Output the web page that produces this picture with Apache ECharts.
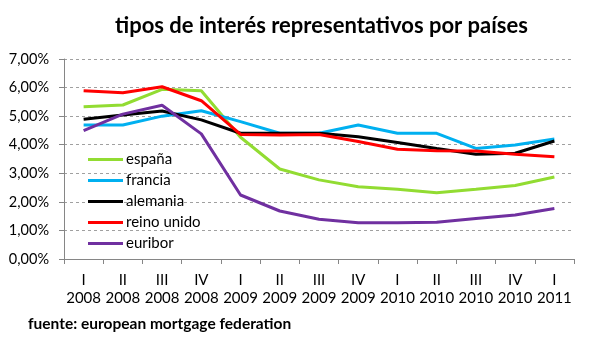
<!DOCTYPE html>
<html>
<head>
<meta charset="utf-8">
<script src="https://cdn.jsdelivr.net/npm/echarts@6/dist/echarts.min.js"></script>
<style>
  html, body { margin: 0; padding: 0; background: #fff; }
  #chart { width: 589px; height: 352px; }
</style>
</head>
<body>
<div id="chart"></div>
<script>
const quarters = ['I', 'II', 'III', 'IV', 'I', 'II', 'III', 'IV', 'I', 'II', 'III', 'IV', 'I']
const years = ['2008', '2008', '2008', '2008', '2009', '2009', '2009', '2009', '2010', '2010', '2010', '2010', '2011']
const espana = [5.33, 5.39, 5.94, 5.89, 4.26, 3.15, 2.77, 2.53, 2.44, 2.32, 2.44, 2.57, 2.87]
const francia = [4.69, 4.69, 5.0, 5.19, 4.81, 4.4, 4.4, 4.69, 4.4, 4.4, 3.87, 3.99, 4.2]
const alemania = [4.89, 5.04, 5.18, 4.87, 4.4, 4.4, 4.4, 4.28, 4.08, 3.87, 3.67, 3.7, 4.13]
const reinoUnido = [5.89, 5.82, 6.03, 5.54, 4.36, 4.34, 4.36, 4.11, 3.84, 3.79, 3.78, 3.67, 3.58]
const euribor = [4.49, 5.07, 5.38, 4.38, 2.24, 1.68, 1.39, 1.27, 1.27, 1.29, 1.42, 1.54, 1.77]
const yTicks = [0, 1, 2, 3, 4, 5, 6, 7]

const font = 'Lato, "Open Sans", sans-serif'
const chart = echarts.init(document.getElementById('chart'))

function line(name, data, color) {
  return {
    name,
    type: 'line',
    data,
    symbol: 'none',
    lineStyle: { color, width: 3 },
    itemStyle: { color },
  }
}

chart.setOption({
  animation: false,
  title: {
    text: 'tipos de interés representativos por países',
    left: 110,
    top: 10,
    textStyle: { fontFamily: font, fontSize: 22, fontWeight: 'bold', color: '#000' },
  },
  legend: {
    orient: 'vertical',
    left: 83,
    top: 147,
    itemWidth: 35,
    itemHeight: 3,
    itemGap: 6,
    icon: 'rect',
    textStyle: { fontFamily: font, fontSize: 15, color: '#000', padding: [0, 0, 0, -2] },
  },
  grid: { left: 64, right: 15, top: 59, bottom: 93 },
  xAxis: {
    type: 'category',
    data: quarters.map((q, i) => q + '\n' + years[i]),
    boundaryGap: true,
    axisLine: { lineStyle: { color: '#868686', width: 1 } },
    axisTick: { show: true, length: 5, lineStyle: { color: '#868686' } },
    axisLabel: { fontFamily: font, fontSize: 15, color: '#000', lineHeight: 18, margin: 12, interval: 0 },
  },
  yAxis: {
    type: 'value',
    min: yTicks[0],
    max: yTicks[yTicks.length - 1],
    interval: 1,
    axisLine: { show: true, lineStyle: { color: '#868686', width: 1 } },
    axisTick: { show: true, length: 5, lineStyle: { color: '#868686' } },
    axisLabel: {
      fontFamily: font, fontSize: 14.5, color: '#000', margin: 15,
      formatter: (v) => v.toFixed(2).replace('.', ',') + '%',
    },
    splitLine: { lineStyle: { color: '#a0a0a0', type: [3, 3] } },
  },
  graphic: [{
    type: 'text',
    left: 28,
    top: 316,
    style: { text: 'fuente: european mortgage federation', font: 'bold 15.5px ' + font, fill: '#000' },
  }],
  series: [
    line('españa', espana, '#92DC32'),
    line('francia', francia, '#00B0F0'),
    line('alemania', alemania, '#000000'),
    line('reino unido', reinoUnido, '#FF0000'),
    line('euribor', euribor, '#7030A0'),
  ],
})
</script>
</body>
</html>
